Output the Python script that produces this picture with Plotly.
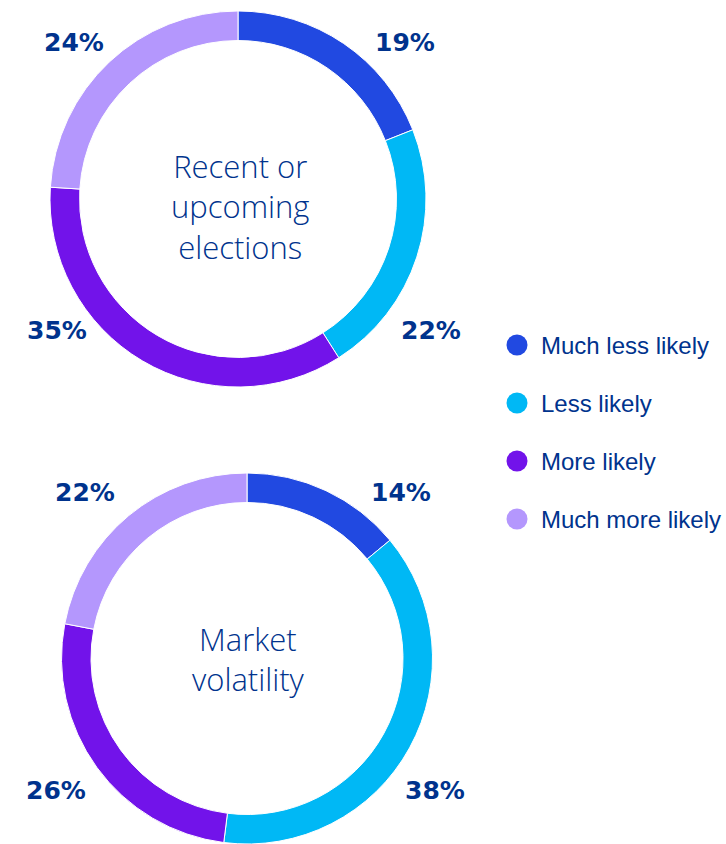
import plotly.graph_objects as go

# Survey response categories and shares (%)
categories = ["Much less likely", "Less likely", "More likely", "Much more likely"]
colors = ["#2149E1", "#00B8F5", "#7213EA", "#B497FD"]

elections_title = "Recent or<br>upcoming<br>elections"
elections_values = [19, 22, 35, 24]

volatility_title = "Market<br>volatility"
volatility_values = [14, 38, 26, 22]

W, H = 726, 844
NAVY = "#00338D"


def px(x):
    return x / W


def py(y):
    return 1 - y / H


fig = go.Figure()

# Donut geometry in pixels: (left, right, top, bottom) of the pie domain,
# plus where the centre caption and percentage labels sit
donuts = [
    dict(values=elections_values, title=elections_title, box=(50, 426, 11, 387), hole=0.843,
         caption=(240, 206),
         label_pos=[(405, 42), (431, 330), (57, 330), (74, 42)]),
    dict(values=volatility_values, title=volatility_title, box=(59, 435, 473, 844), hole=0.841,
         caption=(248, 659),
         label_pos=[(401, 492), (435, 790), (56, 790), (85, 492)]),
]

annotations = []
for d in donuts:
    l, r, t, b = d["box"]
    fig.add_trace(go.Pie(
        labels=categories,
        values=d["values"],
        hole=d["hole"],
        sort=False,
        direction="clockwise",
        rotation=0,
        marker=dict(colors=colors, line=dict(color="white", width=1)),
        textinfo="none",
        hoverinfo="label+percent",
        showlegend=False,
        domain=dict(x=[px(l), px(r)], y=[py(b), py(t)]),
    ))
    # centre caption
    cx, cy = d["caption"]
    annotations.append(dict(
        x=px(cx), y=py(cy), xref="paper", yref="paper",
        text=d["title"], showarrow=False, xanchor="center", yanchor="middle",
        font=dict(family="Open Sans", size=31, color=NAVY, weight=300),
    ))
    # percentage labels around the ring
    for v, (lx, ly) in zip(d["values"], d["label_pos"]):
        annotations.append(dict(
            x=px(lx), y=py(ly), xref="paper", yref="paper",
            text=f"<b>{v}%</b>", showarrow=False, xanchor="center", yanchor="middle",
            font=dict(family="DejaVu Sans", size=25, color=NAVY),
        ))

# Legend: circle swatch + category name
shapes = []
legend_x, legend_y0, legend_step, dot_r = 517, 345, 58, 10.5
for i, (cat, col) in enumerate(zip(categories, colors)):
    yc = legend_y0 + i * legend_step
    shapes.append(dict(
        type="circle", xref="paper", yref="paper",
        x0=px(legend_x - dot_r), x1=px(legend_x + dot_r),
        y0=py(yc + dot_r), y1=py(yc - dot_r),
        fillcolor=col, line=dict(width=0),
    ))
    annotations.append(dict(
        x=px(539), y=py(yc), xref="paper", yref="paper",
        text=cat, showarrow=False, xanchor="left", yanchor="middle",
        font=dict(family="Liberation Sans", size=24, color=NAVY),
    ))

fig.update_layout(
    width=W, height=H,
    margin=dict(l=0, r=0, t=0, b=0),
    paper_bgcolor="white", plot_bgcolor="white",
    annotations=annotations, shapes=shapes,
    showlegend=False,
)

fig.write_html("out.html", config={"displayModeBar": False})
